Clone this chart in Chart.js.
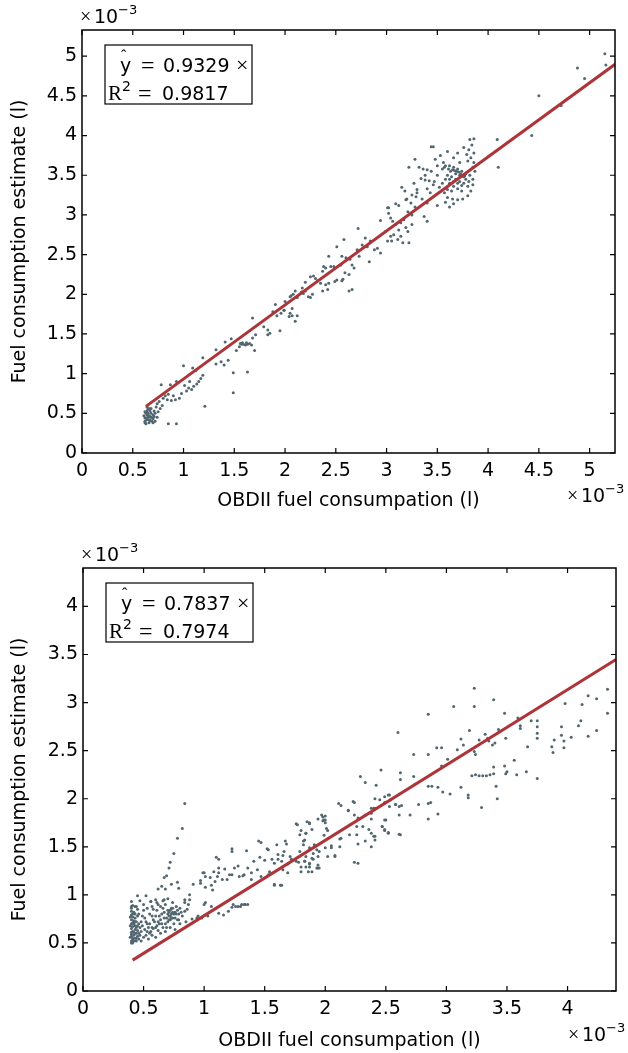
<!DOCTYPE html>
<html>
<head>
<meta charset="utf-8">
<style>
  html, body { margin: 0; padding: 0; background: #fff; }
  .wrap { position: relative; width: 628px; height: 1053px; }
  canvas { position: absolute; left: 0; }
</style>
</head>
<body>
<div class="wrap">
  <canvas id="topChart" width="628" height="526" style="top:0"></canvas>
  <canvas id="bottomChart" width="628" height="527" style="top:526px"></canvas>
</div>

<script src="https://cdn.jsdelivr.net/npm/chart.js"></script>
<script>
// values are in units of 1e-3 l (axes show x10^-3)
var topSlope = 0.9329, topR2 = 0.9817;
var topFitX = [0.63, 5.25];
var topXTicks = [0, 0.5, 1, 1.5, 2, 2.5, 3, 3.5, 4, 4.5, 5];
var topYTicks = [0, 0.5, 1, 1.5, 2, 2.5, 3, 3.5, 4, 4.5, 5];
var topPoints = [
  [0.62,0.40],[0.63,0.44],[0.64,0.48],[0.62,0.52],[0.65,0.55],[0.66,0.42],[0.67,0.46],[0.68,0.50],[0.66,0.38],[0.69,0.44],
  [0.70,0.48],[0.71,0.53],[0.72,0.40],[0.63,0.37],[0.64,0.58],[0.68,0.56],[0.73,0.58],[0.74,0.45],[0.61,0.47],[0.65,0.50],
  [0.69,0.40],[0.67,0.53],[0.64,0.42],[0.66,0.47],[0.62,0.44],[0.70,0.43],[0.75,0.52],[0.77,0.56],[0.79,0.60],
  [0.63,0.50],[0.65,0.45],[0.67,0.41],[0.68,0.45],[0.71,0.46],[0.72,0.50],[0.64,0.53],[0.66,0.56],[0.62,0.38],[0.70,0.38],
  [0.85,0.37],[0.93,0.37],[1.21,0.59],[1.49,0.76],[1.63,1.02],[1.49,1.01],
  [0.78,0.86],[0.87,0.86],[0.93,0.90],[0.80,0.69],[0.84,0.67],[0.88,0.66],[0.92,0.67],[0.96,0.69],
  [0.74,0.62],[0.76,0.65],[0.82,0.72],[0.85,0.74],[0.90,0.72],[0.98,0.75],[1.00,1.10],[1.09,1.07],
  [1.03,0.78],[1.05,0.82],[1.08,0.80],[1.10,0.84],[1.13,0.87],[1.15,0.90],[1.17,0.94],[1.19,0.98],[1.06,0.90],[1.01,0.85],
  [1.12,1.04],[1.19,1.20],[1.32,1.30],[1.32,1.12],[1.37,1.15],[1.40,1.11],[1.44,1.17],[1.41,1.40],[1.47,1.44],
  [1.52,1.29],[1.55,1.34],[1.57,1.37],[1.59,1.37],[1.61,1.36],[1.63,1.37],[1.65,1.38],[1.67,1.36],[1.58,1.39],[1.62,1.39],[1.56,1.38],
  [1.68,1.45],[1.70,1.29],[1.71,1.49],[1.68,1.70],[1.79,1.59],[1.83,1.55],[1.85,1.51],[1.83,1.49],[1.95,1.54],
  [1.88,1.78],[1.92,1.73],[1.96,1.76],[1.99,1.80],[2.04,1.72],[2.05,1.76],[2.07,1.82],[2.10,1.66],
  [2.06,1.98],[2.08,2.00],[2.12,1.96],[2.16,2.03],[2.20,2.04],[2.25,1.96],[2.27,2.00],[2.20,2.15],[2.28,2.23],[2.32,2.17],
  [2.40,2.12],[2.37,2.04],[2.37,2.29],[2.40,2.33],[2.45,2.35],[2.43,2.48],[2.49,2.16],[2.56,2.17],[2.63,2.04],
  [2.59,2.27],[2.64,2.44],[2.66,2.37],[1.905,1.87],[1.99,1.80],[2.07,1.73],[2.12,1.73],
  [2.00,1.91],[2.05,1.97],[2.10,2.04],[2.17,2.08],[2.18,2.01],[2.23,1.97],[2.25,2.22],[2.30,2.20],[2.35,2.14],[2.42,2.06],[2.43,2.14],
  [2.38,2.35],[2.48,2.35],[2.55,2.37],[2.56,2.48],[2.60,2.46],[2.51,2.60],[2.58,2.69],[2.51,2.18],[2.57,2.19],[2.63,2.25],
  [2.66,2.06],[2.68,2.33],[2.71,2.56],[2.73,2.48],[2.76,2.62],[2.79,2.71],[2.81,2.60],[2.84,2.67],[2.83,2.41],[2.88,2.56],[2.91,2.58],
  [2.72,2.83],[2.94,2.52],[2.94,2.93],[2.99,2.79],[3.01,2.67],[3.04,2.73],[3.05,2.67],[3.07,2.75],[3.11,2.69],[3.14,2.73],
  [3.16,2.65],[3.19,2.84],[3.21,2.79],[3.22,2.65],[3.01,3.09],[3.02,3.02],[3.04,2.96],[3.06,2.92],[3.09,2.88],[3.12,2.81],
  [3.14,2.90],[3.17,2.94],[3.19,3.19],[3.21,3.04],[3.24,3.15],[3.25,3.00],[3.29,3.23],[3.30,3.28],[3.25,2.88],[3.40,2.92],[3.37,2.98],
  [3.32,3.60],[3.36,3.58],[3.40,3.57],[3.44,3.55],[3.38,3.50],[3.34,3.46],[3.38,3.44],[3.42,3.43],[3.47,3.42],[3.50,3.50],
  [3.46,3.38],[3.40,3.33],[3.43,3.28],[3.30,3.32],[3.27,3.40],[3.25,3.25],[3.35,3.20],
  [3.55,3.58],[3.58,3.62],[3.62,3.62],[3.66,3.60],[3.70,3.58],[3.74,3.55],[3.78,3.52],[3.82,3.50],[3.85,3.45],[3.85,3.38],
  [3.83,3.30],[3.80,3.24],[3.75,3.20],[3.70,3.19],[3.65,3.20],[3.60,3.22],[3.57,3.28],[3.60,3.50],[3.64,3.48],[3.68,3.45],
  [3.72,3.42],[3.76,3.40],[3.62,3.40],[3.66,3.36],[3.70,3.33],[3.74,3.30],[3.58,3.45],[3.55,3.40],[3.52,3.35],[3.68,3.52],
  [3.72,3.50],[3.78,3.45],[3.80,3.36],[3.64,3.30],[3.60,3.32],[3.63,3.55],[3.67,3.56],[3.71,3.54],[3.76,3.48],[3.81,3.42],
  [3.57,3.60],[3.61,3.58],[3.65,3.57],[3.69,3.55],[3.73,3.52],[3.77,3.49],[3.62,3.45],[3.66,3.42],[3.70,3.40],[3.74,3.37],
  [3.82,3.95],[3.84,3.88],[3.81,3.82],[3.86,3.78],[3.83,3.72],[3.86,3.66],[3.80,3.68],[3.85,3.60],[3.87,3.55],[3.79,3.76],[3.76,3.85],
  [3.48,3.70],[3.53,3.75],[3.60,3.80],[3.66,3.72],[3.70,3.78],[3.72,3.66],[3.56,3.66],[3.50,3.62],[3.22,3.60],[3.28,3.70],
  [3.15,3.35],[3.18,3.30],[3.20,3.20],[3.12,3.12],[3.28,3.10],[3.40,3.15],[3.50,3.12],[3.58,3.16],[3.62,3.10],[3.66,3.14],
  [3.46,3.86],[3.44,3.86],[3.86,3.96],[4.09,3.95],[4.10,3.60],[4.43,4.00],[4.50,4.50],[4.72,4.38],[4.88,4.85],[4.95,4.72],
  [5.15,5.03],[5.16,4.89],[3.09,3.14],[3.02,3.09]
];

var bottomSlope = 0.7837, bottomR2 = 0.7974;
var bottomFitX = [0.41, 4.4];
var bottomXTicks = [0, 0.5, 1, 1.5, 2, 2.5, 3, 3.5, 4];
var bottomYTicks = [0, 0.5, 1, 1.5, 2, 2.5, 3, 3.5, 4];
var bottomPoints = [
  [0.40,0.50],[0.41,0.53],[0.39,0.56],[0.40,0.59],[0.41,0.62],[0.40,0.65],[0.39,0.68],[0.41,0.71],[0.40,0.74],[0.39,0.77],
  [0.41,0.80],[0.40,0.83],[0.40,0.86],[0.41,0.89],[0.40,0.93],[0.42,0.52],[0.42,0.58],[0.43,0.64],[0.42,0.70],[0.43,0.76],
  [0.42,0.82],[0.43,0.88],[0.41,0.55],[0.41,0.67],[0.41,0.77],[0.42,0.61],[0.42,0.73],[0.43,0.55],[0.44,0.60],[0.44,0.66],
  [0.44,0.72],[0.45,0.78],[0.45,0.85],[0.40,0.52],[0.40,0.57],[0.40,0.61],[0.40,0.70],[0.40,0.79],[0.40,0.88],[0.41,0.50],
  [0.43,0.60],[0.43,0.68],[0.43,0.72],[0.43,0.80],[0.44,0.52],[0.45,0.57],[0.45,0.63],[0.46,0.54],[0.46,0.70],[0.47,0.58],
  [0.44,0.55],[0.46,0.60],[0.47,0.66],[0.48,0.72],[0.49,0.78],[0.50,0.84],[0.50,0.90],[0.52,0.58],[0.53,0.62],[0.54,0.66],
  [0.55,0.70],[0.56,0.62],[0.57,0.58],[0.58,0.65],[0.59,0.72],[0.60,0.78],[0.61,0.68],[0.62,0.63],[0.63,0.70],[0.64,0.74],
  [0.65,0.80],[0.66,0.86],[0.67,0.76],[0.68,0.70],[0.69,0.66],[0.70,0.72],[0.71,0.78],[0.72,0.84],[0.73,0.80],[0.74,0.76],
  [0.75,0.70],[0.76,0.82],[0.77,0.88],[0.78,0.74],[0.79,0.80],[0.80,0.86],[0.82,0.78],[0.84,0.92],[0.86,0.85],[0.88,0.95],
  [0.55,0.80],[0.58,0.85],[0.62,0.90],[0.66,0.94],[0.70,0.96],[0.74,0.92],[0.52,0.72],[0.48,0.52],[0.50,0.56],[0.54,0.54],
  [0.60,0.56],[0.45,0.68],[0.46,0.80],[0.44,0.88],[0.47,0.94],[0.56,0.93],[0.60,0.95],[0.64,0.60],[0.68,0.62],[0.72,0.66],
  [0.76,0.64],[0.80,0.70],[0.85,0.72],[0.90,0.75],[0.95,0.78],[0.70,0.80],[0.72,0.78],[0.74,0.82],[0.71,0.74],[0.73,0.76],
  [0.48,0.62],[0.49,0.68],[0.51,0.64],[0.51,0.76],[0.53,0.70],[0.55,0.60],[0.57,0.66],[0.58,0.74],[0.60,0.66],[0.62,0.72],
  [0.63,0.78],[0.65,0.70],[0.66,0.66],[0.67,0.82],[0.69,0.76],[0.70,0.84],[0.71,0.82],[0.72,0.74],[0.73,0.86],[0.75,0.80],
  [0.76,0.76],[0.77,0.80],[0.78,0.84],[0.53,0.86],[0.57,0.78],[0.61,0.84],[0.64,0.88],[0.68,0.90],[0.74,0.86],[0.81,0.82],
  [0.84,1.95],[0.82,1.69],[0.78,1.59],[0.75,1.43],[0.72,1.34],[0.71,1.28],[0.69,1.20],[0.67,1.18],[0.52,0.99],[0.45,0.99],
  [0.56,0.93],[0.62,1.06],[0.65,1.09],[0.68,1.06],[0.73,1.11],[0.78,1.13],[0.79,1.07],[0.57,0.88],[0.61,0.92],[0.67,0.95],
  [0.84,0.95],[0.87,0.90],[0.91,1.11],[0.97,1.15],[0.99,1.23],[1.01,1.08],[1.05,1.18],[1.09,1.14],[1.12,1.23],[1.15,1.16],
  [1.10,1.39],[1.17,1.27],[1.21,1.21],[1.23,1.48],[1.28,1.30],[1.32,1.20],[1.35,1.46],[1.39,1.23],[1.45,1.56],[1.46,1.39],
  [1.52,1.48],[1.56,1.37],[1.58,1.11],[1.61,1.37],[1.63,1.10],[1.65,1.41],[1.67,1.56],[1.69,1.32],[1.72,1.37],[1.76,1.74],
  [1.78,1.34],[1.80,1.67],[1.83,1.35],[1.85,1.76],[1.87,1.32],[1.90,1.37],[1.94,1.28],[1.97,1.83],[1.98,1.77],[1.99,1.62],
  [2.02,1.67],[2.05,1.51],[2.08,1.41],[2.11,1.95],[2.12,1.58],[2.19,1.88],[2.23,1.97],[2.24,1.34],
  [1.12,0.81],[1.16,0.79],[1.20,0.83],[1.24,0.90],[1.28,0.88],[1.31,0.90],[1.34,0.90],[0.94,0.76],[0.98,0.76],[1.03,0.78],
  [1.06,0.88],[0.88,1.00],[0.84,0.83],[0.79,0.74],
  [2.38,1.50],[2.41,1.61],[2.40,1.90],[1.98,1.81],[1.99,1.78],[2.00,1.75],[2.01,1.69],[1.87,1.74],[1.77,1.73],[1.79,1.625],
  [1.84,1.64],[1.82,1.56],[1.87,1.49],[1.91,1.52],[1.95,1.45],[1.94,1.40],[1.79,1.45],[1.84,1.40],[1.83,1.35],[1.80,1.29],
  [1.87,1.29],[1.93,1.28],[1.86,1.24],[1.71,1.40],[1.66,1.45],[1.68,1.53],[1.60,1.52],[1.61,1.42],[1.58,1.33],[1.64,1.35],
  [1.65,1.26],[1.69,1.23],[1.64,1.10],[1.58,1.10],[1.76,1.35],[1.47,1.545],[1.53,1.47],[1.50,1.36],[1.54,1.24],[1.53,1.21],
  [1.47,1.19],[1.44,1.26],[1.41,1.35],[1.39,1.16],[1.36,1.28],[1.33,1.21],[1.29,1.19],[1.23,1.45],[1.25,1.28],[1.23,1.21],
  [1.19,1.16],[1.12,1.28],[1.12,1.37],[1.11,1.19],[1.08,1.24],[1.06,1.10],[1.07,1.05],[1.01,1.19],[1.00,1.23],[0.97,1.12],
  [1.36,0.90],[1.33,0.90],[1.30,0.88],[1.26,0.88],[1.23,0.87],[1.01,0.92],[1.00,0.90],
  [2.24,1.96],[2.13,1.93],[2.19,1.875],[2.24,1.83],[2.27,1.80],[2.26,1.71],[2.31,1.71],[2.36,1.68],[2.38,1.64],[2.38,1.85],
  [2.41,1.90],[2.45,1.99],[2.49,2.02],[2.52,2.04],[2.54,1.99],[2.58,1.94],[2.61,1.92],[2.50,1.78],[2.47,1.71],[2.49,1.68],
  [2.52,1.64],[2.41,1.57],[2.33,1.56],[2.27,1.53],[2.26,1.625],[2.20,1.625],[2.13,1.59],[2.12,1.50],[2.08,1.40],[2.02,1.40],
  [2.05,1.49],[2.00,1.49],[2.00,1.78],[2.00,1.82],[1.94,1.79],[1.89,1.68],[1.87,1.75],[1.84,1.64],[1.83,1.57],[1.82,1.52],
  [1.93,1.47],[1.90,1.43],[1.89,1.38],[1.87,1.33],[1.84,1.29],[1.80,1.24],[1.89,1.24],[1.94,1.31],[1.95,1.28],[2.27,1.33],[2.62,1.625],
  [3.23,3.15],[3.39,3.03],[3.06,2.96],[3.23,2.96],[2.85,2.88],[3.48,2.89],[2.60,2.69],[4.33,3.14],[4.33,2.89],
  [4.17,3.07],[4.24,3.04],[4.12,2.98],[3.98,2.99],[4.11,2.81],[4.09,2.76],[4.03,2.64],[3.95,2.75],[3.95,2.66],[3.97,2.60],
  [3.97,2.53],[3.89,2.61],[3.87,2.54],[3.88,2.48],[4.17,2.65],[4.24,2.71],[3.75,2.81],[3.75,2.75],[3.75,2.68],[3.75,2.63],
  [3.70,2.81],[3.67,2.54],[3.61,2.76],[3.61,2.73],[3.59,2.84],[3.49,2.63],[3.43,2.72],[3.34,2.63],[3.32,2.67],[3.27,2.61],
  [3.23,2.49],[3.24,2.46],[3.19,2.71],[3.12,2.62],[3.14,2.56],[3.09,2.51],
  [3.21,2.24],[3.24,2.25],[3.27,2.24],[3.30,2.24],[3.33,2.24],[3.36,2.25],[3.39,2.26],[3.39,2.33],[3.35,2.60],[3.38,2.56],
  [3.40,2.58],[3.48,2.34],[3.50,2.28],[3.49,2.26],[3.58,2.25],[3.66,2.28],[3.75,2.21],[3.56,2.40],[3.41,2.13],[3.42,2.00],
  [3.29,1.91],[3.18,2.04],[3.18,2.01],[3.12,2.12],[3.03,2.05],[2.97,2.07],[2.92,2.53],[2.96,2.53],[3.01,2.41],[2.96,2.34],
  [2.85,2.46],[2.73,2.46],[2.85,2.13],[2.88,2.13],[2.93,2.12],[2.87,1.96],[2.85,1.95],[2.93,1.84],[2.85,1.79],
  [2.73,2.23],[2.74,2.15],[2.62,2.27],[2.62,2.20],[2.46,2.30],[2.42,2.14],[2.33,2.17],[2.29,2.23],
  [2.53,2.04],[2.49,1.96],[2.53,1.92],[2.58,1.94],[2.63,1.93],[2.61,1.83],[2.41,2.00],[2.38,1.90],[2.33,1.83],[2.38,1.79],
  [2.70,1.83],[2.77,1.94],[2.49,1.78],[2.47,1.71],[2.49,1.67],[2.52,1.65],[2.40,1.61],[2.61,1.63]
];

var fontSans = 'DejaVu Sans';
var fontSerif = 'Liberation Serif';

// box, inward ticks, x10^-3 labels and the fit text box
var framePlugin = {
  id: 'frame',
  afterDatasetsDraw: function(chart, args, opts) {
    var ctx = chart.ctx;
    var a = chart.chartArea;
    var xs = chart.scales.x, ys = chart.scales.y;
    ctx.save();
    ctx.strokeStyle = '#000';
    ctx.lineWidth = 1.5;
    ctx.strokeRect(a.left, a.top, a.right - a.left, a.bottom - a.top);
    ctx.lineWidth = 1.2;
    ctx.beginPath();
    xs.ticks.forEach(function(t) {
      var px = xs.getPixelForValue(t.value);
      ctx.moveTo(px, a.bottom); ctx.lineTo(px, a.bottom - 5);
      ctx.moveTo(px, a.top); ctx.lineTo(px, a.top + 5);
    });
    ys.ticks.forEach(function(t) {
      var py = ys.getPixelForValue(t.value);
      ctx.moveTo(a.left, py); ctx.lineTo(a.left + 5, py);
      ctx.moveTo(a.right, py); ctx.lineTo(a.right - 5, py);
    });
    ctx.stroke();

    // exponent labels
    function expLabel(x, y) {
      ctx.fillStyle = '#000';
      ctx.textAlign = 'left';
      ctx.textBaseline = 'alphabetic';
      ctx.font = '20px ' + fontSerif;
      ctx.fillText('\u00d7', x, y);
      ctx.font = '19px ' + fontSans;
      ctx.fillText('10', x + 14, y);
      ctx.font = '13px ' + fontSans;
      ctx.fillText('\u22123', x + 38, y - 9);
    }
    expLabel(a.left - 2, a.top - 7);
    expLabel(a.right - 48, a.bottom + opts.expBelow);

    // fit text box
    var bx = a.left + 23, by = a.top + 15, bw = 147, bh = 59;
    ctx.fillStyle = '#fff';
    ctx.fillRect(bx, by, bw, bh);
    ctx.lineWidth = 1.2;
    ctx.strokeRect(bx, by, bw, bh);
    ctx.fillStyle = '#000';
    ctx.textBaseline = 'alphabetic';
    var b1 = by + 27, b2 = by + 55;
    ctx.font = '19px ' + fontSans;
    ctx.fillText('y', bx + 15, b1);
    ctx.font = '16px ' + fontSerif;
    ctx.fillText('\u02c6', bx + 16, b1 - 11);
    ctx.font = '24px ' + fontSerif;
    ctx.fillText('=', bx + 36, b1 + 1);
    ctx.font = '19px ' + fontSans;
    ctx.fillText(opts.slope.toFixed(4), bx + 58, b1);
    ctx.font = '22px ' + fontSerif;
    ctx.fillText('\u00d7', bx + 131, b1);
    ctx.font = '21px ' + fontSerif;
    ctx.fillText('R', bx + 3, b2);
    ctx.font = '14px ' + fontSans;
    ctx.fillText('2', bx + 17, b2 - 9);
    ctx.font = '24px ' + fontSerif;
    ctx.fillText('=', bx + 33, b2 + 1);
    ctx.font = '19px ' + fontSans;
    ctx.fillText(opts.r2.toFixed(4), bx + 57, b2);
    ctx.restore();
  }
};

function buildChart(id, points, slope, r2, fitX, xMax, yMax, xTicks, yTicks, lay) {
  var ctx = document.getElementById(id);
  var tickFont = { family: fontSans, size: 19 };
  return new Chart(ctx, {
    type: 'scatter',
    data: {
      datasets: [{
        type: 'line',
        data: fitX.map(function(v) { return { x: v, y: slope * v }; }),
        borderColor: '#ad3438',
        borderWidth: 3,
        pointRadius: 0,
        fill: false
      }, {
        data: points.map(function(p) { return { x: p[0], y: p[1] }; }),
        pointRadius: 1.5,
        pointBorderWidth: 0,
        pointBackgroundColor: '#52666f'
      }]
    },
    plugins: [framePlugin],
    options: {
      responsive: false,
      animation: false,
      events: [],
      layout: { padding: { left: 0, right: lay.right, top: lay.top, bottom: 0 } },
      plugins: {
        legend: { display: false },
        tooltip: { enabled: false },
        frame: { slope: slope, r2: r2, expBelow: lay.expBelow }
      },
      scales: {
        x: {
          type: 'linear', min: 0, max: xMax,
          afterBuildTicks: function(s) { s.ticks = xTicks.map(function(v) { return { value: v }; }); },
          afterFit: function(s) { s.height = lay.xHeight; },
          grid: { display: false, drawTicks: false },
          border: { display: false },
          ticks: {
            callback: function(v) { return String(v); },
            font: tickFont, color: '#000', padding: 7, maxRotation: 0, autoSkip: false
          },
          title: {
            display: true, text: 'OBDII fuel consumpation (l)',
            font: tickFont, color: '#000', padding: { top: 0, bottom: lay.xTitlePad }
          }
        },
        y: {
          type: 'linear', min: 0, max: yMax,
          afterBuildTicks: function(s) { s.ticks = yTicks.map(function(v) { return { value: v }; }); },
          afterFit: function(s) { s.width = lay.yWidth; },
          grid: { display: false, drawTicks: false },
          border: { display: false },
          ticks: {
            callback: function(v) { return String(v); },
            font: tickFont, color: '#000', padding: 5, autoSkip: false
          },
          title: {
            display: true, text: 'Fuel consumption estimate (l)',
            font: tickFont, color: '#000', padding: { top: 9, bottom: 0 }
          }
        }
      }
    }
  });
}

buildChart('topChart', topPoints, topSlope, topR2, topFitX, 5.25, 5.33, topXTicks, topYTicks,
  { top: 30, right: 13, xHeight: 73, yWidth: 82, xTitlePad: 14, expBelow: 49 });
buildChart('bottomChart', bottomPoints, bottomSlope, bottomR2, bottomFitX, 4.4, 4.4, bottomXTicks, bottomYTicks,
  { top: 42, right: 12, xHeight: 62, yWidth: 83, xTitlePad: 1, expBelow: 50 });
</script>
</body>
</html>
